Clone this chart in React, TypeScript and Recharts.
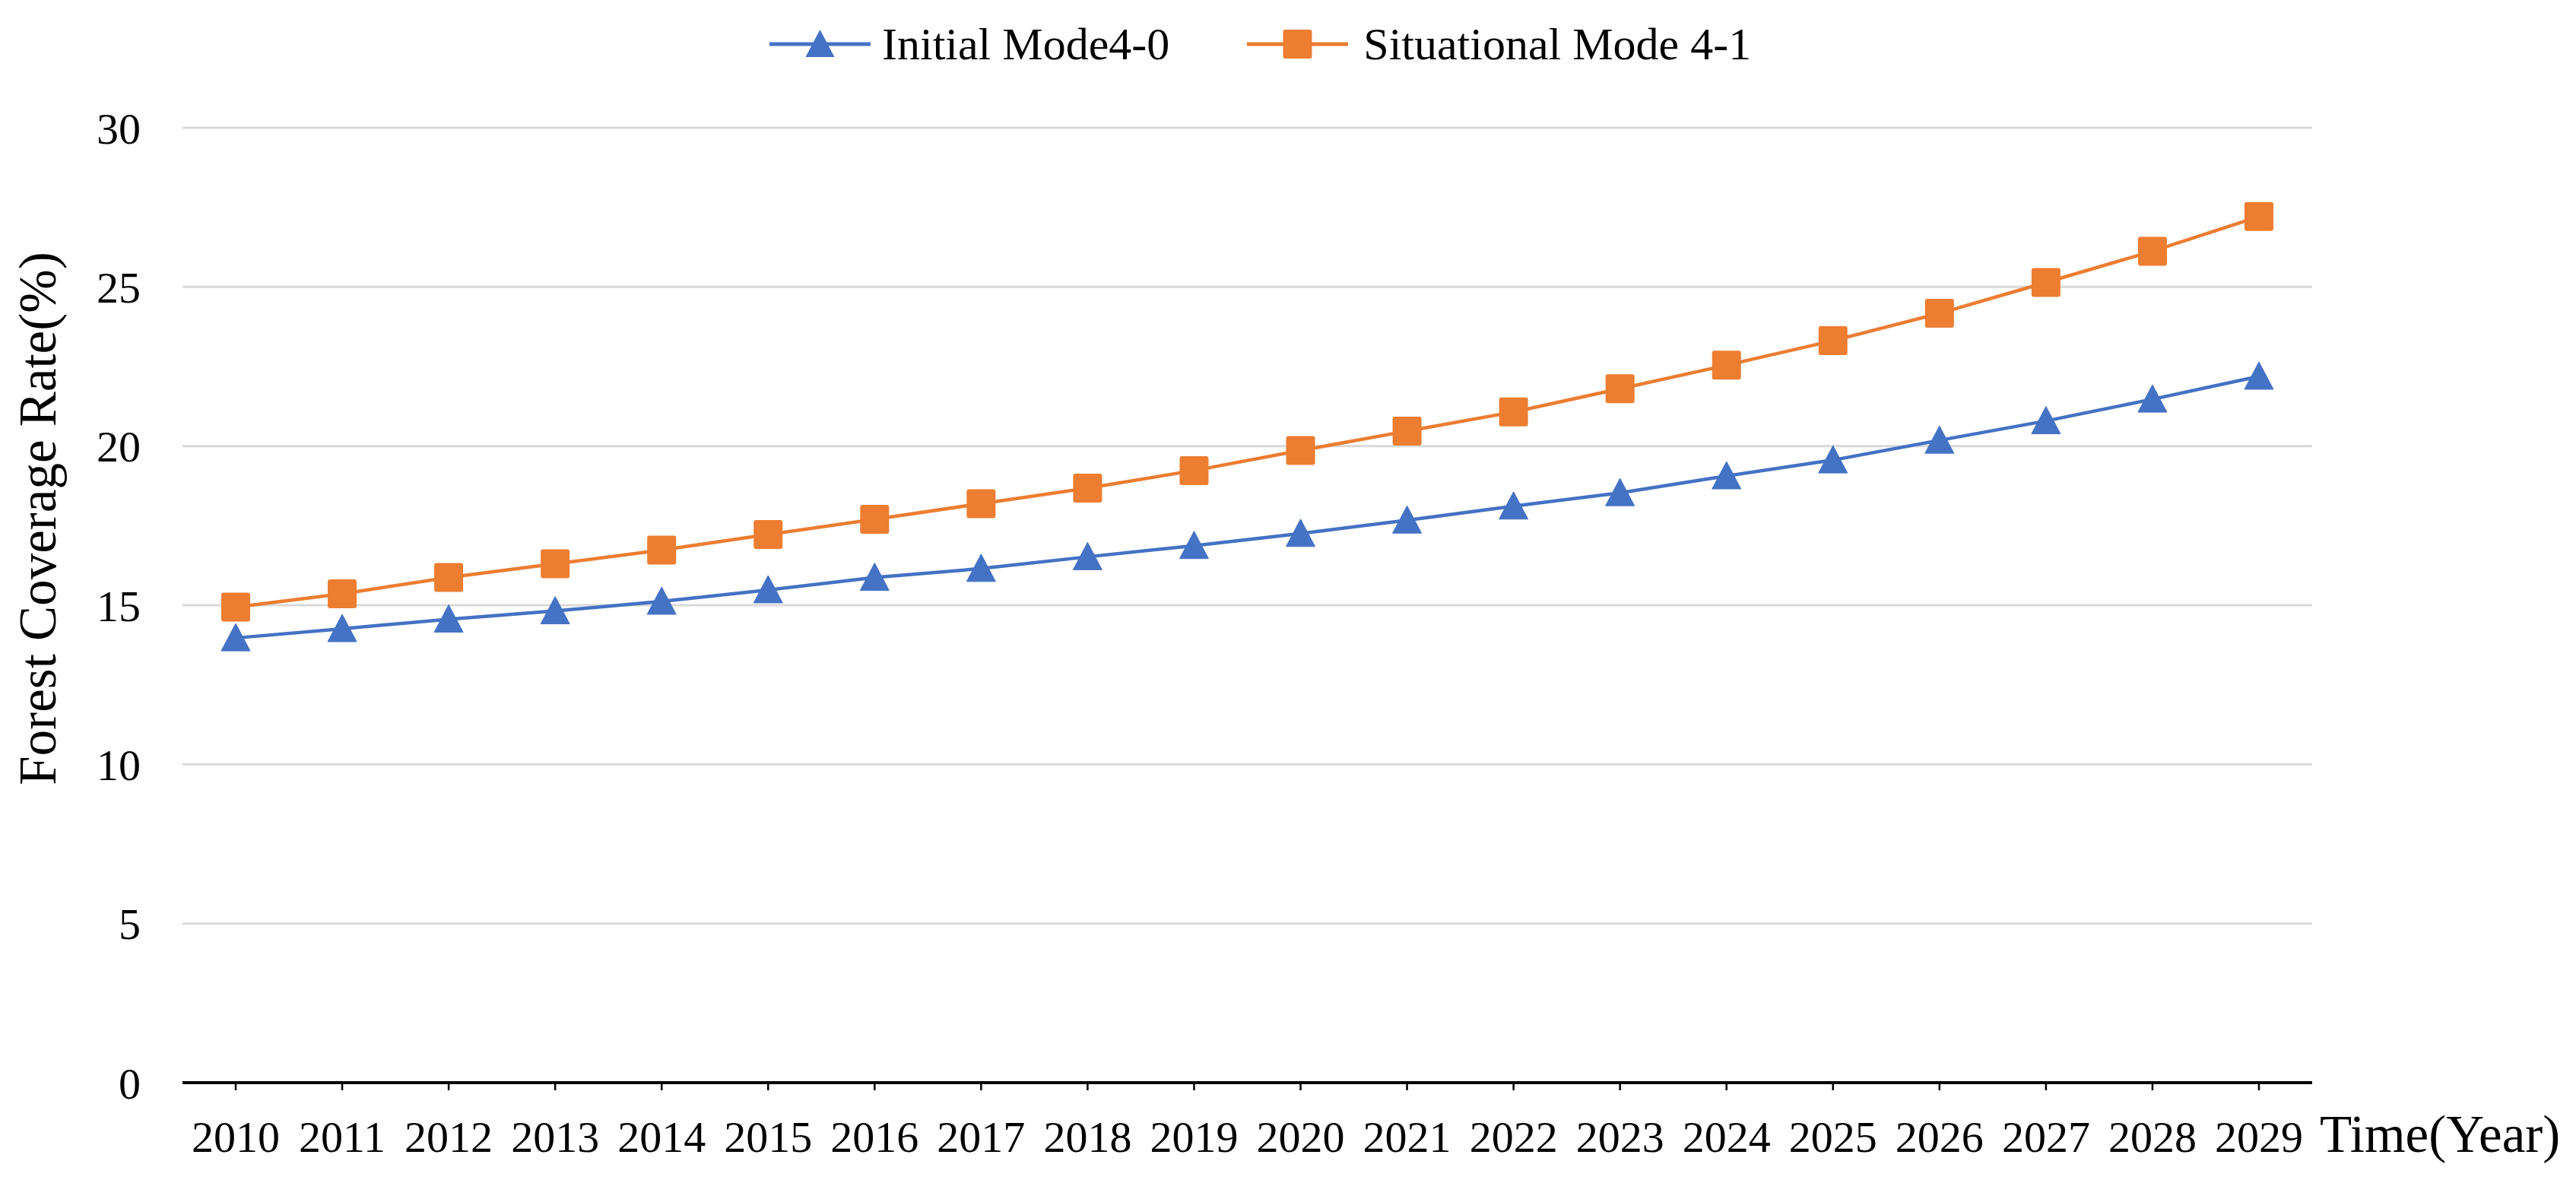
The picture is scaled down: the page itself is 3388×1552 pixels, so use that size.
import React from 'react';
import { LineChart, Line, XAxis, YAxis, CartesianGrid, Legend, Label } from 'recharts';

const years = ['2010', '2011', '2012', '2013', '2014', '2015', '2016', '2017', '2018', '2019', '2020', '2021', '2022', '2023', '2024', '2025', '2026', '2027', '2028', '2029'];
const initialMode = [13.97, 14.26, 14.56, 14.82, 15.12, 15.48, 15.87, 16.15, 16.52, 16.87, 17.25, 17.67, 18.11, 18.53, 19.06, 19.56, 20.18, 20.79, 21.47, 22.19];
const situationalMode = [14.94, 15.36, 15.87, 16.30, 16.73, 17.22, 17.70, 18.19, 18.68, 19.23, 19.86, 20.47, 21.07, 21.80, 22.54, 23.31, 24.17, 25.14, 26.12, 27.21];
const yTicks = [0, 5, 10, 15, 20, 25, 30];
const seriesNames = ['Initial Mode4-0', 'Situational Mode 4-1'];
const yTitle = 'Forest Coverage Rate(%)';
const xTitle = 'Time(Year)';

const data = years.map((y, i) => ({ year: y, initial: initialMode[i], situational: situationalMode[i] }));

const FONT = '"Liberation Serif", "Times New Roman", Times, serif';
const BLUE = '#4472C4';
const ORANGE = '#ED7D31';

const TriangleDot = (props: any) => {
  const { cx, cy, index } = props;
  if (cx == null || cy == null) return null;
  return (
    <polygon
      key={`tri-${index}`}
      points={`${cx},${cy - 19} ${cx - 19},${cy + 17} ${cx + 19},${cy + 17}`}
      fill={BLUE}
      stroke={BLUE}
      strokeWidth={1}
      strokeLinejoin="round"
    />
  );
};

const SquareDot = (props: any) => {
  const { cx, cy, index } = props;
  if (cx == null || cy == null) return null;
  return <rect key={`sq-${index}`} x={cx - 19} y={cy - 19} width={38} height={38} rx={3} fill={ORANGE} />;
};

const renderLegend = () => (
  <div style={{ position: 'relative', width: 3388, height: 168 }}>
    <div
      style={{
        position: 'absolute',
        left: 1012,
        top: 28,
        height: 60,
        display: 'flex',
        alignItems: 'center',
        fontFamily: FONT,
        fontSize: 60,
        lineHeight: '60px',
        color: '#000',
        whiteSpace: 'nowrap',
      }}
    >
      <svg width={133} height={60} style={{ display: 'block' }}>
        <line x1={0} y1={30} x2={133} y2={30} stroke={BLUE} strokeWidth={5} />
        <polygon points={`66.5,11 47.5,47 85.5,47`} fill={BLUE} />
      </svg>
      <span style={{ marginLeft: 15 }}>{seriesNames[0]}</span>
      <svg width={133} height={60} style={{ display: 'block', marginLeft: 102 }}>
        <line x1={0} y1={30} x2={133} y2={30} stroke={ORANGE} strokeWidth={5} />
        <rect x={47.5} y={11} width={38} height={38} rx={3} fill={ORANGE} />
      </svg>
      <span style={{ marginLeft: 20 }}>{seriesNames[1]}</span>
    </div>
  </div>
);

const YTitle = (props: any) => {
  const vb = props.viewBox || { x: 0, y: 168 };
  const x = vb.x + 73;
  const y = vb.y + 514;
  return (
    <text x={x} y={y} transform={`rotate(-90, ${x}, ${y})`} textAnchor="middle" fontFamily={FONT} fontSize={69} fill="#000">
      {yTitle}
    </text>
  );
};

const XTitle = (props: any) => {
  const vb = props.viewBox || { x: 240, y: 1424, width: 2801 };
  const x = vb.x + vb.width + 10;
  const y = vb.y + 91;
  return (
    <text x={x} y={y} textAnchor="start" fontFamily={FONT} fontSize={69} fill="#000">
      {xTitle}
    </text>
  );
};

export default function App() {
  return (
    <div style={{ position: 'absolute', left: 0, top: 0, background: '#fff' }}>
      <LineChart width={3388} height={1552} data={data} margin={{ top: 0, right: 347, bottom: 0, left: 0 }}>
        <CartesianGrid vertical={false} stroke="#D9D9D9" strokeWidth={3} />
        <Legend
          verticalAlign="top"
          align="center"
          content={renderLegend}
          wrapperStyle={{ top: 0, left: 0, width: 3388, height: 168 }}
        />
        <XAxis
          dataKey="year"
          interval={0}
          padding={{ left: 70, right: 70 }}
          height={128}
          axisLine={{ stroke: '#000', strokeWidth: 4 }}
          tickLine={{ stroke: '#000', strokeWidth: 2.5 }}
          tickSize={10}
          tickMargin={40}
          tick={{ fontSize: 58, fill: '#000', fontFamily: FONT }}
        >
          <Label content={XTitle} />
        </XAxis>
        <YAxis
          domain={[0, 30]}
          ticks={yTicks}
          width={240}
          axisLine={false}
          tickLine={false}
          tickSize={0}
          tickMargin={55}
          tick={{ fontSize: 58, fill: '#000', fontFamily: FONT }}
        >
          <Label content={YTitle} />
        </YAxis>
        <Line
          type="linear"
          dataKey="initial"
          name={seriesNames[0]}
          stroke={BLUE}
          strokeWidth={4.5}
          dot={TriangleDot}
          activeDot={false}
          isAnimationActive={false}
        />
        <Line
          type="linear"
          dataKey="situational"
          name={seriesNames[1]}
          stroke={ORANGE}
          strokeWidth={4.5}
          dot={SquareDot}
          activeDot={false}
          isAnimationActive={false}
        />
      </LineChart>
    </div>
  );
}
